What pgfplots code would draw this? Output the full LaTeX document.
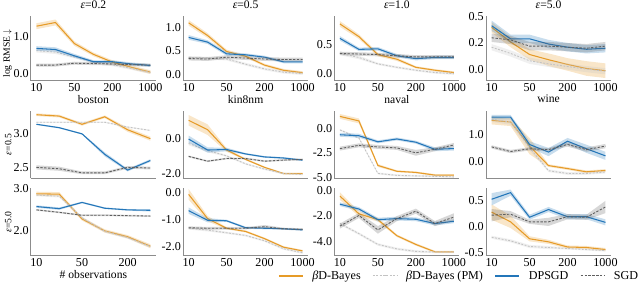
\documentclass[border=0pt]{standalone}
\usepackage{fontspec}
\setmainfont{Liberation Serif}
\usepackage{pgfplots}
\pgfplotsset{compat=1.18}
\usepackage{pgfplotstable}
\definecolor{cO}{RGB}{230,155,40}
\definecolor{cB}{RGB}{35,118,185}
\definecolor{cS}{RGB}{95,95,95}
\definecolor{cP}{RGB}{195,195,195}

% columns: x, betaD-Bayes (o), betaD-Bayes PM (p), DPSGD (b), SGD (s); *e = half band width
\pgfplotstableread{
x o oe p pe b be s se
0 1.28 0.08 0.62 0.05 0.68 0.06 0.23 0.04
1 1.38 0.08 0.58 0.05 0.65 0.06 0.23 0.04
2 0.81 0.06 0.45 0.04 0.48 0.05 0.28 0.04
3 0.52 0.05 0.32 0.04 0.32 0.04 0.27 0.04
4 0.31 0.05 0.24 0.04 0.32 0.04 0.26 0.04
5 0.17 0.05 0.14 0.04 0.26 0.04 0.24 0.04
6 0.04 0.05 0.03 0.04 0.22 0.04 0.23 0.04
}\tA
\pgfplotstableread{
x o oe p pe b be s se
0 1.10 0.06 0.36 0.03 0.79 0.05 0.34 0.04
1 0.83 0.05 0.35 0.03 0.69 0.04 0.33 0.04
2 0.49 0.04 0.33 0.03 0.44 0.04 0.37 0.04
3 0.39 0.03 0.22 0.03 0.42 0.03 0.35 0.04
4 0.20 0.03 0.12 0.03 0.37 0.03 0.33 0.04
5 0.09 0.03 0.05 0.03 0.27 0.03 0.32 0.04
6 0.04 0.03 0.02 0.03 0.27 0.03 0.32 0.04
}\tB
\pgfplotstableread{
x o oe p pe b be s se
0 0.86 0.05 0.35 0.03 0.61 0.04 0.35 0.03
1 0.64 0.04 0.28 0.03 0.42 0.03 0.34 0.03
2 0.33 0.03 0.17 0.02 0.43 0.03 0.33 0.03
3 0.25 0.03 0.11 0.02 0.31 0.03 0.31 0.03
4 0.11 0.02 0.06 0.02 0.26 0.03 0.29 0.03
5 0.06 0.02 0.02 0.02 0.28 0.03 0.29 0.03
6 0.02 0.02 0.00 0.02 0.28 0.03 0.29 0.03
}\tC
\pgfplotstableread{
x o oe p pe b be s se
0 0.40 0.05 0.21 0.03 0.415 0.05 0.30 0.04
1 0.26 0.05 0.15 0.03 0.29 0.04 0.28 0.04
2 0.14 0.05 0.08 0.03 0.29 0.04 0.22 0.04
3 0.09 0.06 0.05 0.03 0.24 0.04 0.22 0.04
4 0.045 0.06 0.025 0.03 0.21 0.04 0.21 0.04
5 0.006 0.07 0.00 0.03 0.19 0.04 0.20 0.04
6 -0.015 0.07 -0.02 0.03 0.20 0.04 0.22 0.04
}\tD
\pgfplotstableread{
x o oe p pe b be s se
0 3.28 0.02 3.17 0.01 3.14 0.01 2.51 0.03
1 3.26 0.02 3.17 0.01 3.09 0.01 2.49 0.03
2 3.14 0.02 3.17 0.01 3.00 0.01 2.43 0.02
3 3.25 0.02 3.17 0.01 2.70 0.03 2.43 0.02
4 3.06 0.03 3.10 0.01 2.47 0.02 2.51 0.02
5 2.93 0.03 3.05 0.01 2.61 0.02 2.50 0.02
}\tE
\pgfplotstableread{
x o oe p pe b be s se
0 1.01 0.30 -0.30 0.10 -0.05 0.20 -1.03 0.05
1 0.48 0.30 -0.70 0.10 -0.67 0.15 -1.30 0.05
2 -0.67 0.10 -1.00 0.05 -0.64 0.10 -1.15 0.05
3 -1.20 0.05 -1.45 0.05 -0.89 0.05 -1.15 0.05
4 -1.65 0.05 -1.75 0.05 -1.06 0.05 -1.30 0.05
5 -2.00 0.05 -2.00 0.05 -1.12 0.05 -1.24 0.05
6 -2.00 0.05 -2.05 0.05 -1.24 0.05 -1.20 0.05
}\tF
\pgfplotstableread{
x o oe p pe b be s se
0 1.21 0.25 -0.17 0.1 -0.66 0.2 -2.07 0.2
1 0.75 0.25 -0.99 0.1 -0.76 0.2 -1.74 0.2
2 -3.79 0.15 -4.60 0.1 -1.38 0.15 -1.90 0.2
3 -4.38 0.1 -4.80 0.1 -1.09 0.15 -2.00 0.2
4 -4.50 0.1 -4.85 0.1 -1.42 0.15 -2.50 0.3
5 -4.77 0.1 -4.90 0.1 -2.14 0.2 -2.14 0.2
6 -4.77 0.1 -4.95 0.1 -2.07 0.2 -1.70 0.2
}\tG
\pgfplotstableread{
x o oe p pe b be s se
0 1.51 0.15 1.55 0.1 1.63 0.08 0.53 0.06
1 1.45 0.15 1.45 0.1 1.63 0.08 0.36 0.06
2 0.56 0.3 0.50 0.1 0.62 0.12 0.46 0.06
3 -0.16 0.05 -0.35 0.05 0.34 0.15 0.43 0.06
4 -0.27 0.05 -0.45 0.05 0.74 0.12 0.62 0.08
5 -0.39 0.05 -0.45 0.05 0.46 0.15 0.43 0.08
6 -0.34 0.05 -0.40 0.05 0.20 0.15 0.56 0.08
}\tH
\pgfplotstableread{
x o oe p pe b be s se
0 2.88 0.05 2.85 0.03 2.57 0.03 2.49 0.02
1 2.87 0.05 2.82 0.03 2.52 0.03 2.43 0.02
2 2.27 0.04 2.30 0.03 2.67 0.02 2.36 0.02
3 1.98 0.04 1.97 0.03 2.53 0.02 2.36 0.02
4 1.84 0.04 1.82 0.03 2.49 0.02 2.35 0.02
5 1.61 0.05 1.60 0.03 2.48 0.03 2.34 0.02
}\tI
\pgfplotstableread{
x o oe p pe b be s se
0 -0.06 0.20 -1.33 0.05 -0.67 0.12 -1.31 0.05
1 -0.97 0.10 -1.40 0.05 -1.03 0.08 -1.33 0.05
2 -1.33 0.04 -1.50 0.04 -1.05 0.04 -1.33 0.05
3 -1.45 0.04 -1.60 0.04 -1.31 0.04 -1.33 0.04
4 -1.72 0.04 -1.80 0.04 -1.33 0.04 -1.27 0.06
5 -2.04 0.04 -2.10 0.04 -1.35 0.03 -1.35 0.04
6 -2.18 0.04 -2.25 0.04 -1.39 0.03 -1.37 0.04
}\tJ
\pgfplotstableread{
x o oe p pe b be s se
0 -0.43 0.30 -2.60 0.1 -1.07 0.15 -2.80 0.2
1 -1.83 0.20 -3.40 0.1 -1.45 0.15 -1.96 0.2
2 -2.29 0.15 -4.25 0.1 -2.29 0.15 -3.10 0.3
3 -3.56 0.10 -4.60 0.1 -2.21 0.15 -2.21 0.2
4 -4.25 0.10 -4.80 0.1 -2.26 0.15 -1.62 0.2
5 -4.83 0.08 -4.85 0.08 -2.60 0.15 -2.60 0.2
6 -4.83 0.08 -4.85 0.08 -2.42 0.15 -2.09 0.3
}\tK
\pgfplotstableread{
x o oe p pe b be s se
0 0.28 0.15 -0.21 0.03 0.53 0.12 0.22 0.12
1 0.09 0.12 -0.28 0.03 0.66 0.06 0.24 0.06
2 -0.24 0.05 -0.39 0.03 0.18 0.05 0.09 0.04
3 -0.30 0.04 -0.41 0.03 0.33 0.05 0.09 0.08
4 -0.40 0.03 -0.43 0.02 0.19 0.05 0.19 0.05
5 -0.41 0.03 -0.45 0.02 0.19 0.05 0.18 0.05
6 -0.45 0.03 -0.47 0.02 0.08 0.06 0.38 0.12
}\tL

% band via stacked plots: lower bound, then band width filled, then reset stack to zero
\newcommand{\series}[4]{%
  \addplot[draw=none, stack plots=y, forget plot] table[x=x, y expr=\thisrow{#2}-\thisrow{#2e}] {#1};
  \addplot[draw=none, fill=#3, fill opacity=0.25, stack plots=y, forget plot] table[x=x, y expr=2*\thisrow{#2e}] {#1} \closedcycle;
  \addplot[draw=none, stack plots=y, forget plot] table[x=x, y expr=-\thisrow{#2}-\thisrow{#2e}] {#1};
  \addplot[#3, #4, forget plot] table[x=x, y=#2] {#1};
}
\newcommand{\panel}[1]{%
  \series{#1}{o}{cO}{line width=1.1pt}
  \series{#1}{p}{cP}{line width=0.9pt, dash pattern=on 2pt off 1.5pt}
  \series{#1}{b}{cB}{line width=1.1pt}
  \series{#1}{s}{cS}{line width=0.9pt, dash pattern=on 2.5pt off 1.5pt}
}

\pgfplotsset{
  base/.style={
    scale only axis, width=129.5pt, anchor=north west,
    axis lines=left, axis line style={-, draw=black!45, line width=0.8pt},
    major tick length=0pt, tick style={draw=none},
    enlargelimits=false, clip=true,
    xmin=-0.3, xmax=6.3, xtick={0,2,4,6}, xticklabels={10,50,200,1000},
    /pgf/number format/assume math mode=true,
    tick label style={font=\fontsize{12.5}{14}\selectfont},
    y tick label style={/pgf/number format/fixed, /pgf/number format/fixed zerofill, /pgf/number format/precision=1, inner sep=2pt},
    x tick label style={inner sep=2.5pt},
    label style={font=\fontsize{12}{14}\selectfont},
    xlabel style={inner sep=1pt},
    title style={font=\fontsize{12}{14}\selectfont, at={(0.5,1)}, anchor=south, inner sep=1pt, yshift=0pt},
    every axis y label/.style={at={(axis description cs:-0.18,0.5)}, rotate=90, anchor=center},
  },
  r1/.style={base, height=67pt},
  r2/.style={base, height=70pt},
  r3/.style={base, height=70pt},
  six/.style={xmin=-0.25, xmax=5.25, xtick={0,2,4}, xticklabels={10,50,200}},
}

\begin{document}
\begin{tikzpicture}
\path (0,0) rectangle (640pt,-310pt);
% ---------- row 1
\begin{axis}[r1, at={(31.5pt,-12pt)}, ymin=-0.19, ymax=1.56, ytick={0,1},
  title={{\itshape ε}=0.2}, xlabel={boston}, ylabel={log RMSE $\downarrow$},
  every axis y label/.style={at={(axis description cs:-0.185,0.42)}, rotate=90, anchor=center}]
\panel{\tA}
\end{axis}
\begin{axis}[r1, at={(188.8pt,-12pt)}, ymin=-0.13, ymax=1.25, ytick={0,0.5,1},
  title={{\itshape ε}=0.5}, xlabel={kin8nm}]
\panel{\tB}
\end{axis}
\begin{axis}[r1, at={(345.2pt,-12pt)}, ymin=-0.12, ymax=1.0, ytick={0,0.5},
  title={{\itshape ε}=1.0}, xlabel={naval}]
\panel{\tC}
\end{axis}
\begin{axis}[r1, at={(502pt,-12pt)}, ymin=-0.11, ymax=0.51, ytick={0,0.25,0.5}, yticklabels={0.0,0.2,0.5},
  title={{\itshape ε}=5.0}, xlabel={wine}]
\panel{\tD}
\end{axis}
% ---------- row 2
\begin{axis}[r2, six, xticklabels={}, at={(31.5pt,-110pt)}, ymin=2.35, ymax=3.34, ytick={2.5,3.0},
  ylabel={{\itshape ε}=0.5}]
\panel{\tE}
\end{axis}
\begin{axis}[r2, xticklabels={}, at={(188.8pt,-110pt)}, ymin=-2.27, ymax=1.56, ytick={-2,0}]
\panel{\tF}
\end{axis}
\begin{axis}[r2, xticklabels={}, at={(345.2pt,-110pt)}, ymin=-5.1, ymax=1.8, ytick={-5,-2.5,0}]
\panel{\tG}
\end{axis}
\begin{axis}[r2, xticklabels={}, at={(502pt,-110pt)}, ymin=-0.63, ymax=1.87, ytick={0,1}]
\panel{\tH}
\end{axis}
% ---------- row 3
\begin{axis}[r3, six, at={(31.5pt,-190pt)}, ymin=1.38, ymax=3.02, ytick={2,3},
  xlabel={\# observations}, ylabel={{\itshape ε}=5.0}]
\panel{\tI}
\end{axis}
\begin{axis}[r3, at={(188.8pt,-190pt)}, ymin=-2.36, ymax=0.18, ytick={-2,-1,0}]
\panel{\tJ}
\end{axis}
\begin{axis}[r3, at={(345.2pt,-190pt)}, ymin=-5.14, ymax=0.21, ytick={-4,-2,0},
  legend columns=4,
  legend image post style={xscale=1.45},
  legend style={draw=none, fill=none, at={(axis description cs:-0.449,-0.297)}, anchor=west,
    inner sep=0pt, font=\fontsize{12.5}{14}\selectfont,
    /tikz/every odd column/.style={column sep=7pt},
    /tikz/every even column/.style={column sep=10pt}}]
\addlegendimage{color=cO, line width=1.6pt}
\addlegendentry{{\itshape β}D-Bayes}
\addlegendimage{color=cP, line width=1.2pt, dash pattern=on 2pt off 1.5pt}
\addlegendentry{{\itshape β}D-Bayes (PM)}
\addlegendimage{color=cB, line width=1.6pt}
\addlegendentry{DPSGD}
\addlegendimage{color=cS, line width=1.2pt, dash pattern=on 2.5pt off 1.5pt}
\addlegendentry{SGD}
\panel{\tK}
\end{axis}
\begin{axis}[r3, at={(502pt,-190pt)}, ymin=-0.57, ymax=0.75, ytick={-0.5,0,0.5}]
\panel{\tL}
\end{axis}
\end{tikzpicture}
\end{document}
